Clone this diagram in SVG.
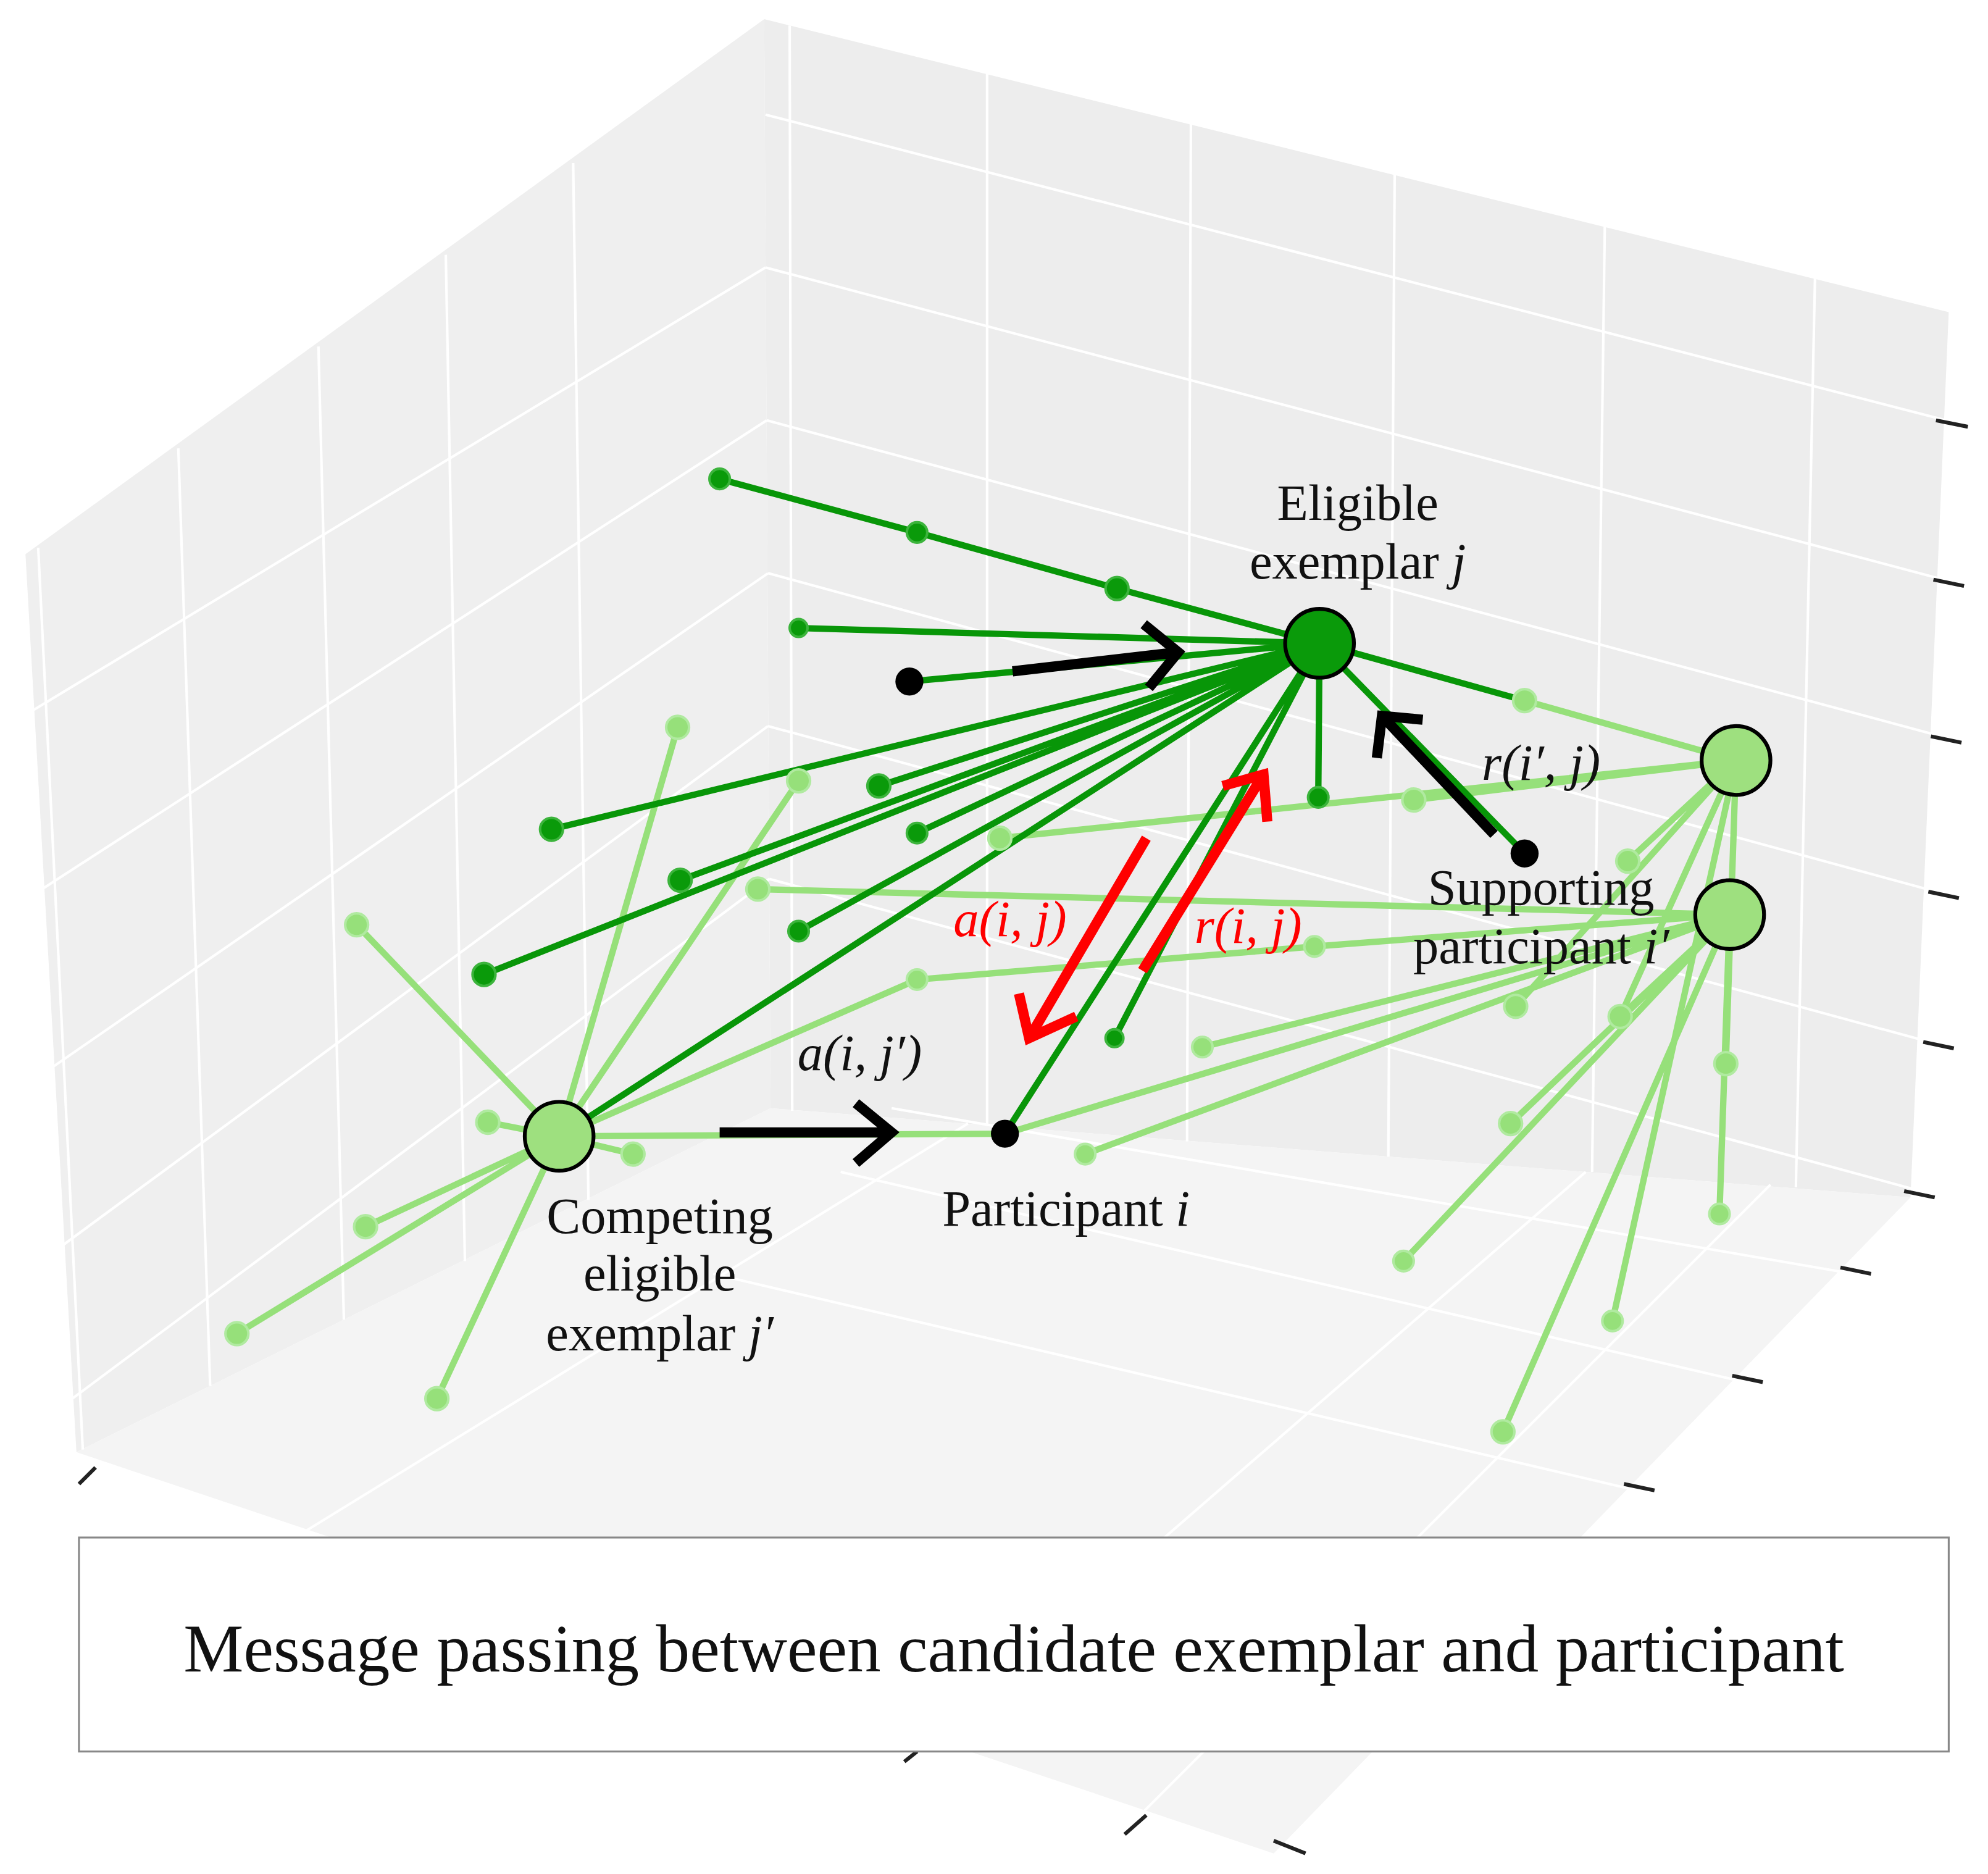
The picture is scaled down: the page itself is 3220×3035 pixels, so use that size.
<svg xmlns="http://www.w3.org/2000/svg" width="3220" height="3035" viewBox="0 0 3220 3035">
<style>
.g{stroke:#fff;stroke-width:2;fill:none}
.d{stroke:#089608;stroke-width:5;fill:none}
.l{stroke:#96e07a;stroke-width:5;fill:none}
.dn{fill:#0a9a0a;stroke:#3cb43c;stroke-width:2}
.ln{fill:#96e07a;stroke:#b0eaa0;stroke-width:2}
.t{font-family:"Liberation Serif",serif;font-size:40px;text-anchor:middle;fill:#111}
.ar{stroke:#000;stroke-width:8;fill:none;stroke-linecap:butt}
.rr{stroke:#f00;stroke-width:8;fill:none}
.tk{stroke:#222;stroke-width:3}
</style>
<rect width="3220" height="3035" fill="#fff"/>
<g transform="scale(2.063)">
<g id="box">
<polygon points="20,435 600,15 605,870 60,1140" fill="#efefef"/>
<polygon points="600,15 1530,245 1500,940 605,870" fill="#ededed"/>
<polygon points="60,1140 605,870 1500,940 1000,1455" fill="#f4f4f4"/>
<g class="g">
<line x1="30" y1="430" x2="65" y2="1138"/><line x1="140" y1="352" x2="165" y2="1088"/><line x1="250" y1="272" x2="270" y2="1036"/><line x1="350" y1="200" x2="365" y2="990"/><line x1="450" y1="128" x2="462" y2="942"/>
<line x1="22" y1="560" x2="601" y2="210"/><line x1="30" y1="700" x2="602" y2="330"/><line x1="38" y1="840" x2="603" y2="450"/><line x1="46" y1="980" x2="603" y2="570"/><line x1="54" y1="1100" x2="604" y2="690"/>
<line x1="620" y1="20" x2="622" y2="872"/><line x1="775" y1="55" x2="775" y2="884"/><line x1="935" y1="95" x2="932" y2="896"/><line x1="1095" y1="135" x2="1090" y2="908"/><line x1="1260" y1="175" x2="1250" y2="920"/><line x1="1425" y1="218" x2="1410" y2="932"/>
<line x1="601" y1="90" x2="1528" y2="330"/><line x1="601" y1="210" x2="1526" y2="455"/><line x1="602" y1="330" x2="1524" y2="578"/><line x1="603" y1="450" x2="1520" y2="700"/><line x1="603" y1="570" x2="1515" y2="818"/><line x1="604" y1="690" x2="1508" y2="935"/>
<line x1="235" y1="1205" x2="760" y2="882"/><line x1="715" y1="1380" x2="1245" y2="920"/><line x1="890" y1="1430" x2="1390" y2="930"/>
<line x1="700" y1="870" x2="1455" y2="1000"/><line x1="660" y1="920" x2="1370" y2="1085"/><line x1="560" y1="1000" x2="1285" y2="1170"/>
</g>
<g class="tk">
<line x1="62" y1="1165" x2="75" y2="1152"/><line x1="1520" y1="330" x2="1545" y2="335"/><line x1="1518" y1="455" x2="1542" y2="460"/><line x1="1516" y1="578" x2="1540" y2="583"/><line x1="1514" y1="700" x2="1538" y2="705"/><line x1="1510" y1="818" x2="1534" y2="823"/><line x1="1495" y1="935" x2="1519" y2="940"/><line x1="1445" y1="995" x2="1469" y2="1000"/><line x1="1360" y1="1080" x2="1384" y2="1085"/><line x1="1275" y1="1165" x2="1299" y2="1170"/><line x1="710" y1="1383" x2="720" y2="1375"/><line x1="883" y1="1440" x2="900" y2="1425"/><line x1="1000" y1="1445" x2="1025" y2="1455"/>
</g>
</g>
<g id="connectors">
<g class="l">
<path d="M439,892 L280,726 M439,892 L383,881 M439,892 L532,571 M439,892 L627,613 M439,892 L287,963 M439,892 L186,1047 M439,892 L343,1098 M439,892 L497,906 M439,892 L789,890 M439,892 L720,769 L1032,743"/>
<path d="M1363,597 L1110,628 M1363,597 L1278,676 M1363,597 L785,658 M1363,597 L1197,550 M1363,597 L1355,835 M1363,597 L1272,798 M1363,597 L1190,790 M1363,597 L1266,1037"/>
<path d="M1358,718 L595,698 M1358,718 L1032,743 M1358,718 L944,822 M1358,718 L852,906 M1358,718 L789,890 M1358,718 L1186,882 M1358,718 L1102,990 M1358,718 L1180,1124 M1358,718 L1350,953 M1358,718 L1272,798"/>
</g>
<g class="d">
<path d="M1036,505 L877,462 L720,418 L565,376 M1036,505 L627,493 M1036,505 L714,535 M1036,505 L433,651 M1036,505 L534,691 M1036,505 L627,731 M1036,505 L380,765 M1036,505 L439,892 M1036,505 L690,617 M1036,505 L720,654 M1036,505 L789,890 M1036,505 L875,815 M1036,505 L1035,626 M1036,505 L1197,550 M1036,505 L1197,670"/>
</g>
<path class="ar" d="M795,527 L925,512 M898,490 L925,512 L902,540"/>
<path class="ar" d="M565,889 L700,889 M672,866 L700,889 L672,913"/>
<path class="ar" d="M1173,655 L1085,562 M1081,595 L1085,562 L1117,565"/>
<path class="rr" d="M900,658 L808,815 M800,780 L808,815 L845,798"/>
<path class="rr" d="M897,762 L992,608 M960,617 L992,608 L995,645"/>
</g>
<g id="small-nodes">
<g class="dn"><circle cx="565" cy="376" r="8"/><circle cx="720" cy="418" r="8"/><circle cx="877" cy="462" r="9"/><circle cx="627" cy="493" r="7"/><circle cx="433" cy="651" r="9"/><circle cx="534" cy="691" r="9"/><circle cx="627" cy="731" r="8"/><circle cx="380" cy="765" r="9"/><circle cx="690" cy="617" r="9"/><circle cx="720" cy="654" r="8"/><circle cx="875" cy="815" r="7"/><circle cx="1035" cy="626" r="8"/></g>
<g class="ln"><circle cx="280" cy="726" r="9"/><circle cx="383" cy="881" r="9"/><circle cx="532" cy="571" r="9"/><circle cx="627" cy="613" r="9"/><circle cx="287" cy="963" r="9"/><circle cx="186" cy="1047" r="9"/><circle cx="343" cy="1098" r="9"/><circle cx="497" cy="906" r="9"/><circle cx="720" cy="769" r="8"/><circle cx="785" cy="658" r="9"/><circle cx="595" cy="698" r="9"/><circle cx="1110" cy="628" r="9"/><circle cx="1278" cy="676" r="9"/><circle cx="1197" cy="550" r="9"/><circle cx="1032" cy="743" r="8"/><circle cx="944" cy="822" r="8"/><circle cx="852" cy="906" r="8"/><circle cx="1190" cy="790" r="9"/><circle cx="1272" cy="798" r="9"/><circle cx="1186" cy="882" r="9"/><circle cx="1102" cy="990" r="8"/><circle cx="1266" cy="1037" r="8"/><circle cx="1180" cy="1124" r="9"/><circle cx="1355" cy="835" r="9"/><circle cx="1350" cy="953" r="8"/></g>
</g>
<g id="node-j"><circle cx="1036" cy="505" r="27" fill="#0a9a0a" stroke="#000" stroke-width="3"/></g>
<g id="node-i1"><circle cx="1363" cy="597" r="27" fill="#9ee07f" stroke="#000" stroke-width="3"/></g>
<g id="node-i2"><circle cx="1358" cy="718" r="27" fill="#9ee07f" stroke="#000" stroke-width="3"/></g>
<g id="node-jp"><circle cx="439" cy="892" r="27" fill="#9ee07f" stroke="#000" stroke-width="3"/></g>
<g id="node-i"><circle cx="789" cy="890" r="11" fill="#000"/></g>
<g id="node-b1"><circle cx="714" cy="535" r="11" fill="#000"/></g>
<g id="node-b2"><circle cx="1197" cy="670" r="11" fill="#000"/></g>
<g id="labels">
<text class="t" x="1066" y="408">Eligible</text>
<text class="t" x="1066" y="454">exemplar <tspan font-style="italic">j</tspan></text>
<text class="t" x="1210" y="612" font-style="italic">r(i′, j)</text>
<text class="t" x="1210" y="710">Supporting</text>
<text class="t" x="1210" y="756">participant <tspan font-style="italic">i′</tspan></text>
<text class="t" x="793" y="735" font-style="italic" style="fill:#f00">a(i, j)</text>
<text class="t" x="980" y="740" font-style="italic" style="fill:#f00">r(i, j)</text>
<text class="t" x="675" y="840" font-style="italic">a(i, j′)</text>
<text class="t" x="518" y="968">Competing</text>
<text class="t" x="518" y="1013">eligible</text>
<text class="t" x="518" y="1060">exemplar <tspan font-style="italic">j′</tspan></text>
<text class="t" x="837" y="962">Participant <tspan font-style="italic">i</tspan></text>
</g>
<g id="caption">
<rect x="62" y="1207" width="1468" height="168" fill="#fff" stroke="#888" stroke-width="1.5"/>
<text class="t" x="796" y="1312" style="font-size:53px">Message passing between candidate exemplar and participant</text>
</g>
</g>
</svg>
